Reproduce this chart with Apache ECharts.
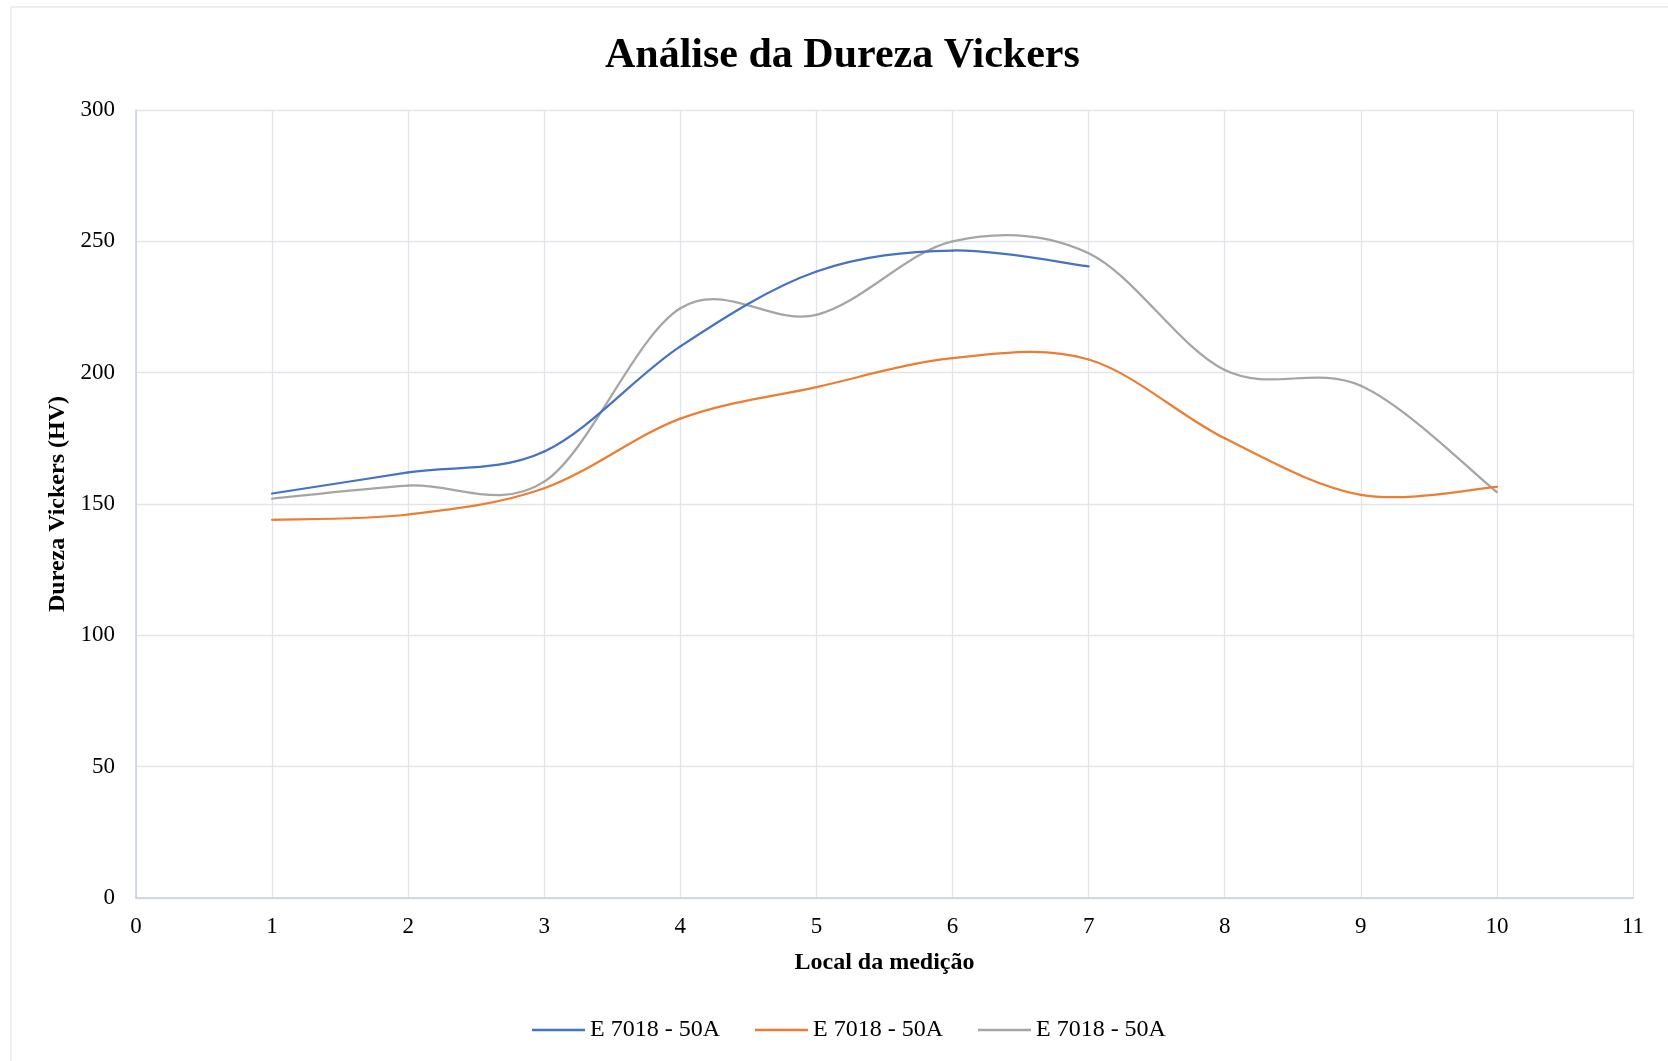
<!DOCTYPE html>
<html>
<head>
<meta charset="utf-8">
<script src="https://cdn.jsdelivr.net/npm/echarts@6/dist/echarts.min.js"></script>
<style>
html,body{margin:0;padding:0;background:#fff;}
#chart{width:1668px;height:1061px;}
</style>
</head>
<body>
<div id="chart"></div>
<script>
const titleText = 'Análise da Dureza Vickers';
const xAxisTitle = 'Local da medição';
const yAxisTitle = 'Dureza Vickers (HV)';
const seriesNames = ['E 7018 - 50A', 'E 7018 - 50A', 'E 7018 - 50A'];
const seriesColors = ['#4472C4', '#ED7D31', '#A5A5A5'];

const xBlue = [1, 2, 3, 4, 5, 6, 7];
const yBlue = [154, 162, 170, 210, 238.5, 246.5, 240.5];

const xOrange = [1, 2, 3, 4, 5, 6, 7, 8, 9, 10];
const yOrange = [144, 146, 156, 182.5, 194.5, 205.5, 205, 175, 153.5, 156.5];

const xGray = [1, 2, 3, 4, 5, 6, 7, 8, 9, 10];
const yGray = [152, 157, 158.5, 224.5, 222, 250, 245.5, 201, 195, 154.5];

const xMin = 0, xMax = 11, xInterval = 1;
const yMin = 0, yMax = 300, yInterval = 50;

const FONT = "'Liberation Serif', 'Times New Roman', serif";
const TENSION = 1 / 6;

const allX = [xBlue, xOrange, xGray];
const allY = [yBlue, yOrange, yGray];

function pairs(xs, ys) { return xs.map((x, i) => [x, ys[i]]); }

// Excel-like smoothed line: Catmull-Rom style Bezier through the points,
// positioned with the library's own coordinate system (api.coord).
function curveRenderer(xs, ys, color) {
  return function (params, api) {
    if (params.dataIndex !== 0) return null;
    const pts = xs.map((x, i) => api.coord([x, ys[i]]));
    const n = pts.length;
    const children = [];
    for (let i = 0; i < n - 1; i++) {
      const p0 = pts[Math.max(i - 1, 0)];
      const p1 = pts[i];
      const p2 = pts[i + 1];
      const p3 = pts[Math.min(i + 2, n - 1)];
      children.push({
        type: 'bezierCurve',
        shape: {
          x1: p1[0], y1: p1[1], x2: p2[0], y2: p2[1],
          cpx1: p1[0] + (p2[0] - p0[0]) * TENSION,
          cpy1: p1[1] + (p2[1] - p0[1]) * TENSION,
          cpx2: p2[0] - (p3[0] - p1[0]) * TENSION,
          cpy2: p2[1] - (p3[1] - p1[1]) * TENSION
        },
        style: {stroke: color, lineWidth: 2.25, fill: null, lineCap: 'round', lineJoin: 'round'}
      });
    }
    return {type: 'group', children: children};
  };
}

const chart = echarts.init(document.getElementById('chart'), null, {renderer: 'canvas'});
const option = {
  backgroundColor: '#ffffff',
  animation: false,
  graphic: [{
    type: 'rect',
    shape: {x: 11, y: 7, width: 1700, height: 1100},
    style: {fill: 'none', stroke: '#dcdfe4', lineWidth: 1},
    silent: true, z: -10
  }],
  title: {
    text: titleText,
    left: 600,
    top: 30,
    textStyle: {fontFamily: FONT, fontWeight: 'bold', fontSize: 42, color: '#000'}
  },
  legend: {
    left: 527,
    top: 1013,
    itemWidth: 53,
    itemHeight: 2.5,
    itemGap: 35,
    icon: 'rect',
    textStyle: {fontFamily: FONT, fontSize: 24, color: '#000'},
    data: seriesNames.map((n, i) => ({name: n + '\u200b'.repeat(i)}))
  },
  grid: {left: 136, right: 35, top: 110, bottom: 163, containLabel: false},
  xAxis: {
    type: 'value', min: xMin, max: xMax, interval: xInterval,
    name: xAxisTitle, nameLocation: 'middle', nameGap: 53,
    nameTextStyle: {fontFamily: FONT, fontWeight: 'bold', fontSize: 24, color: '#000'},
    axisLine: {show: true, lineStyle: {color: '#c9d1db', width: 1.5}},
    axisTick: {show: false},
    axisLabel: {fontFamily: FONT, fontSize: 23, color: '#000', margin: 17},
    splitLine: {show: true, lineStyle: {color: '#e1e5eb', width: 1.3}}
  },
  yAxis: {
    type: 'value', min: yMin, max: yMax, interval: yInterval,
    name: yAxisTitle, nameLocation: 'middle', nameGap: 64,
    nameTextStyle: {fontFamily: FONT, fontWeight: 'bold', fontSize: 24, color: '#000'},
    axisLine: {show: true, lineStyle: {color: '#c9d1db', width: 1.5}},
    axisTick: {show: false},
    axisLabel: {fontFamily: FONT, fontSize: 23, color: '#000', margin: 21},
    splitLine: {show: true, lineStyle: {color: '#e1e5eb', width: 1.3}}
  },
  series: allX.map((xs, i) => ({
    name: seriesNames[i] + '\u200b'.repeat(i),
    type: 'custom',
    coordinateSystem: 'cartesian2d',
    data: pairs(xs, allY[i]),
    encode: {x: 0, y: 1},
    renderItem: curveRenderer(xs, allY[i], seriesColors[i]),
    itemStyle: {color: seriesColors[i]},
    clip: true,
    silent: true,
    z: 3 - i
  }))
};
chart.setOption(option);
</script>
</body>
</html>
